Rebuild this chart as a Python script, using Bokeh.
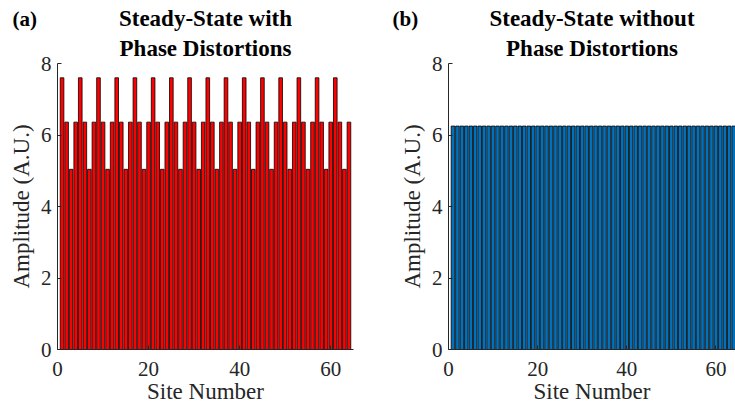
from bokeh.plotting import figure
from bokeh.layouts import row
from bokeh.models import Title, Range1d, FixedTicker
from bokeh.embed import file_html
from bokeh.resources import INLINE

sites = list(range(1, 65))
amp_with = [7.60, 6.36, 5.04, 6.36, 7.60, 6.36, 5.04, 6.36,
            7.60, 6.36, 5.04, 6.36, 7.60, 6.36, 5.04, 6.36,
            7.60, 6.36, 5.04, 6.36, 7.60, 6.36, 5.04, 6.36,
            7.60, 6.36, 5.04, 6.36, 7.60, 6.36, 5.04, 6.36,
            7.60, 6.36, 5.04, 6.36, 7.60, 6.36, 5.04, 6.36,
            7.60, 6.36, 5.04, 6.36, 7.60, 6.36, 5.04, 6.36,
            7.60, 6.36, 5.04, 6.36, 7.60, 6.36, 5.04, 6.36,
            7.60, 6.36, 5.04, 6.36, 7.60, 6.36, 5.04, 6.36]
amp_without = [6.25, 6.25, 6.25, 6.25, 6.25, 6.25, 6.25, 6.25,
               6.25, 6.25, 6.25, 6.25, 6.25, 6.25, 6.25, 6.25,
               6.25, 6.25, 6.25, 6.25, 6.25, 6.25, 6.25, 6.25,
               6.25, 6.25, 6.25, 6.25, 6.25, 6.25, 6.25, 6.25,
               6.25, 6.25, 6.25, 6.25, 6.25, 6.25, 6.25, 6.25,
               6.25, 6.25, 6.25, 6.25, 6.25, 6.25, 6.25, 6.25,
               6.25, 6.25, 6.25, 6.25, 6.25, 6.25, 6.25, 6.25,
               6.25, 6.25, 6.25, 6.25, 6.25, 6.25, 6.25, 6.25]
x_ticks = [0, 20, 40, 60]
y_ticks = [0, 2, 4, 6, 8]

FONT = "Liberation Serif"
AXC = "#262626"


def make_panel(vals, color, tag, line1, line2, width, left, right, xmax):
    p = figure(width=width, height=406, output_backend="svg", toolbar_location=None,
               x_range=Range1d(0, xmax), y_range=Range1d(0, 8),
               min_border_left=left, min_border_right=right,
               min_border_top=63, min_border_bottom=56)
    p.vbar(x=sites, top=vals, width=0.8, fill_color=color, line_color="black",
           line_width=0.8)
    p.grid.visible = False
    p.outline_line_color = None
    p.background_fill_color = "white"
    p.border_fill_color = "white"
    for ax in (p.xaxis, p.yaxis):
        ax.axis_line_color = AXC
        ax.major_tick_line_color = AXC
        ax.major_tick_in = 4
        ax.major_tick_out = 0
        ax.minor_tick_line_color = None
        ax.major_label_text_font = FONT
        ax.major_label_text_font_size = "21px"
        ax.major_label_text_color = AXC
        ax.axis_label_text_font = FONT
        ax.axis_label_text_font_size = "23px"
        ax.axis_label_text_font_style = "normal"
        ax.axis_label_text_color = AXC
    p.xaxis.ticker = FixedTicker(ticks=x_ticks)
    p.yaxis.ticker = FixedTicker(ticks=y_ticks)
    p.xaxis.axis_label = "Site Number"
    p.yaxis.axis_label = "Amplitude (A.U.)"
    p.xaxis.major_label_standoff = 12
    p.xaxis.axis_label_standoff = 0
    p.yaxis.major_label_standoff = 6
    p.yaxis.axis_label_standoff = 4
    t2 = Title(text=line2, align="center", text_font=FONT, text_font_size="23px",
               text_font_style="bold", text_color="black", standoff=6)
    t1 = Title(text=line1, align="center", text_font=FONT, text_font_size="23px",
               text_font_style="bold", text_color="black", standoff=0)
    t0 = Title(text=tag, align="left", offset=12 - left, text_font=FONT,
               text_font_size="21px", text_font_style="bold", text_color="black",
               standoff=-54)
    p.add_layout(t2, "above")
    p.add_layout(t1, "above")
    p.add_layout(t0, "above")
    return p


pa = make_panel(amp_with, "#FF0000", "(a)", "Steady-State with", "Phase Distortions",
                380, 57, 27, 65)
pb = make_panel(amp_without, "#0072BD", "(b)", "Steady-State without", "Phase Distortions",
                355, 68, 0, 64.4)

layout = row(pa, pb)
open("out.html", "w").write(file_html(layout, INLINE))
